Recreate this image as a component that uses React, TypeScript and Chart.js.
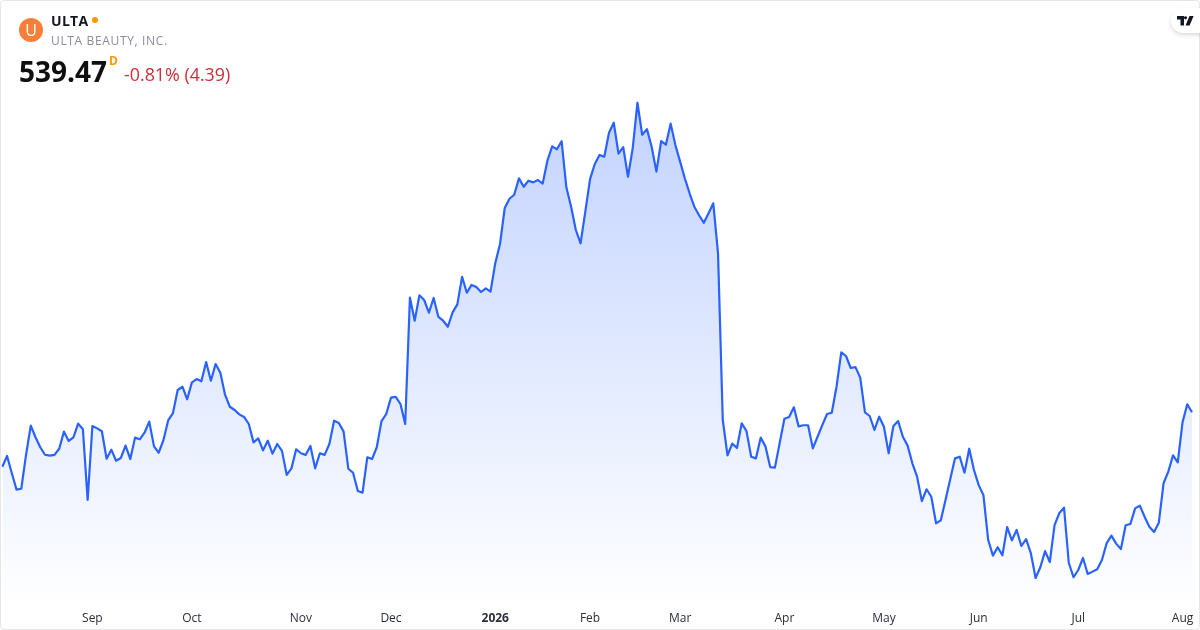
import React, { useEffect, useRef } from "react";
import { Chart, registerables } from "chart.js";

Chart.register(...registerables);

const symbol = "ULTA";
const companyName = "ULTA BEAUTY, INC.";
const lastPrice = "539.47";
const intervalLabel = "D";
const changeLabel = "-0.81% (4.39)";

const tickIndexes = [19, 40, 63, 82, 104, 124, 143, 165, 186, 206, 227, 249];
const tickLabels = ["Sep", "Oct", "Nov", "Dec", "2026", "Feb", "Mar", "Apr", "May", "Jun", "Jul", "Aug"];

const closes = [
  509.5, 515.4, 505.9, 496.9, 497.4, 516.0, 532.1, 525.7, 520.2, 516.1,
  515.6, 516.0, 519.4, 528.8, 523.7, 525.7, 533.2, 530.1, 491.2, 531.9,
  530.6, 529.0, 513.9, 518.9, 512.8, 514.3, 521.1, 513.7, 525.5, 524.6,
  528.2, 534.3, 520.7, 517.2, 524.2, 535.0, 539.0, 551.7, 553.5, 546.6,
  555.9, 557.7, 556.5, 567.1, 556.8, 566.0, 561.2, 549.0, 542.5, 540.7,
  538.3, 536.9, 533.0, 522.9, 525.1, 518.5, 523.8, 516.7, 522.0, 518.2,
  505.0, 508.6, 519.1, 516.9, 516.0, 520.9, 508.6, 516.9, 516.0, 522.0,
  534.8, 533.6, 528.8, 508.4, 506.2, 496.2, 495.2, 514.7, 513.7, 520.2,
  534.6, 538.5, 547.5, 547.9, 544.0, 533.0, 602.5, 589.8, 603.8, 601.2,
  594.2, 602.3, 591.9, 589.8, 586.5, 594.4, 598.8, 613.9, 605.2, 609.5,
  608.4, 605.6, 607.6, 605.8, 621.4, 632.0, 651.8, 656.9, 659.1, 668.1,
  663.5, 666.8, 665.9, 667.2, 665.2, 677.8, 685.7, 684.1, 688.5, 663.2,
  652.5, 639.7, 632.4, 649.8, 667.7, 676.0, 681.0, 680.0, 693.2, 698.7,
  681.7, 685.3, 669.0, 684.6, 709.7, 692.1, 695.2, 685.5, 671.8, 688.6,
  686.6, 698.2, 686.4, 677.3, 668.1, 659.9, 652.5, 647.8, 643.7, 648.9,
  654.4, 626.9, 535.2, 515.8, 522.2, 519.8, 533.4, 529.1, 515.0, 514.1,
  525.5, 520.7, 509.3, 509.0, 522.4, 535.9, 536.9, 542.2, 531.7, 532.3,
  532.3, 519.6, 526.0, 532.4, 538.5, 539.2, 553.5, 572.4, 570.4, 563.8,
  564.3, 558.5, 539.4, 537.4, 529.7, 537.0, 531.5, 516.9, 531.9, 534.6,
  526.0, 521.1, 511.4, 504.0, 490.6, 497.1, 493.0, 478.4, 480.0, 491.2,
  502.7, 514.1, 515.0, 506.2, 519.4, 507.7, 499.4, 493.8, 469.2, 460.6,
  465.2, 460.8, 476.3, 469.0, 474.7, 465.9, 469.7, 461.9, 448.3, 454.2,
  463.1, 457.1, 477.4, 483.9, 487.0, 456.7, 448.7, 452.7, 459.3, 450.5,
  451.8, 453.1, 458.2, 467.5, 471.6, 467.2, 464.2, 477.3, 478.0, 486.6,
  488.1, 482.0, 476.5, 473.6, 478.7, 500.4, 506.8, 515.8, 511.9, 533.9,
  543.86, 539.47,
];

const FONT = '"Open Sans", "Noto Sans", sans-serif';

export default function App() {
  const ref = useRef<HTMLCanvasElement>(null);

  useEffect(() => {
    document.body.style.margin = "0";
    const labels = closes.map((_, i) => {
      const k = tickIndexes.indexOf(i);
      return k >= 0 ? tickLabels[k] : "";
    });
    const chart = new Chart(ref.current!, {
      type: "line",
      data: {
        labels,
        datasets: [
          {
            data: closes,
            borderColor: "#2962ff",
            borderWidth: 2.2,
            pointRadius: 0,
            tension: 0,
            borderJoinStyle: "round",
            fill: "start",
            backgroundColor: (c: any) => {
              const g = c.chart.ctx.createLinearGradient(0, 107, 0, 607);
              g.addColorStop(0, "rgba(41,98,255,0.28)");
              g.addColorStop(1, "rgba(41,98,255,0)");
              return g;
            },
          },
        ],
      },
      options: {
        responsive: false,
        animation: false,
        devicePixelRatio: 1,
        layout: { padding: { left: 2.33, right: 8, top: 0, bottom: 0 } },
        plugins: { legend: { display: false }, tooltip: { enabled: false } },
        scales: {
          x: {
            type: "category",
            offset: false,
            grid: {
              display: true,
              drawOnChartArea: false,
              drawTicks: true,
              tickLength: 11,
              color: "rgba(0,0,0,0)",
              tickColor: "rgba(0,0,0,0)",
            },
            border: { display: false },
            afterFit: (s: any) => {
              s.height = 30;
            },
            ticks: {
              autoSkip: false,
              maxRotation: 0,
              minRotation: 0,
              padding: 0,
              color: "#2a2e39",
              font: (c: any) => ({
                family: FONT,
                size: 12,
                weight: c.tick && c.tick.label === "2026" ? "bold" : "normal",
              }),
            },
          },
          y: { display: false, min: 436.2, max: 766.2 },
        },
      },
    });
    return () => chart.destroy();
  }, []);

  const abs = (o: React.CSSProperties): React.CSSProperties => ({
    position: "absolute",
    whiteSpace: "nowrap",
    fontFamily: FONT,
    ...o,
  });

  return (
    <div style={{ position: "fixed", left: 0, top: 0, width: 1200, height: 630, background: "#fff", overflow: "hidden" }}>
      <canvas ref={ref} width={1200} height={630} style={{ position: "absolute", left: 0, top: 0, display: "block" }} />
      <div
        style={{
          position: "absolute",
          left: 0,
          top: 0,
          width: 1198,
          height: 628,
          border: "1px solid #e6e6e6",
          borderRadius: 4,
          pointerEvents: "none",
        }}
      />
      <div
        style={abs({
          left: 19,
          top: 18,
          width: 24,
          height: 24,
          borderRadius: 12,
          background: "#f57f38",
          color: "#fff",
          fontSize: 16,
          lineHeight: "24px",
          textAlign: "center",
        })}
      >
        U
      </div>
      <div style={abs({ left: 51, top: 12, fontSize: 14, lineHeight: "18px", fontWeight: 700, color: "#131722", letterSpacing: 0.3 })}>{symbol}</div>
      <div style={{ position: "absolute", left: 92, top: 17, width: 6, height: 6, borderRadius: 3, background: "#ff9800" }} />
      <div style={abs({ left: 51, top: 32, fontSize: 12, lineHeight: "18px", color: "#8a8d96", letterSpacing: 0.65 })}>{companyName}</div>
      <div style={abs({ left: 19, top: 52, fontSize: 28, lineHeight: "38px", fontWeight: 700, color: "#0f0f0f" })}>{lastPrice}</div>
      <div style={abs({ left: 109, top: 54, fontSize: 12, lineHeight: "14px", fontWeight: 700, color: "#ff9800" })}>{intervalLabel}</div>
      <div style={abs({ left: 124, top: 62, fontSize: 17.85, lineHeight: "24px", color: "#cc2f3c" })}>{changeLabel}</div>
      <div
        style={{
          position: "absolute",
          left: 1171,
          top: 8,
          width: 40,
          height: 25,
          borderRadius: 12,
          background: "#fff",
          boxShadow: "0 2px 4px rgba(0,0,0,0.15)",
        }}
      />
      <svg style={{ position: "absolute", left: 1177, top: 16 }} width="17" height="10" viewBox="0 0 17 10">
        <path d="M0 0H7V9.5H3.5V3.5H0Z M8.5 0.2a1.6 1.6 0 1 0 0.01 0Z M12.5 0H16.6L12.6 9.5H8.5Z" fill="#131722" />
      </svg>
    </div>
  );
}
